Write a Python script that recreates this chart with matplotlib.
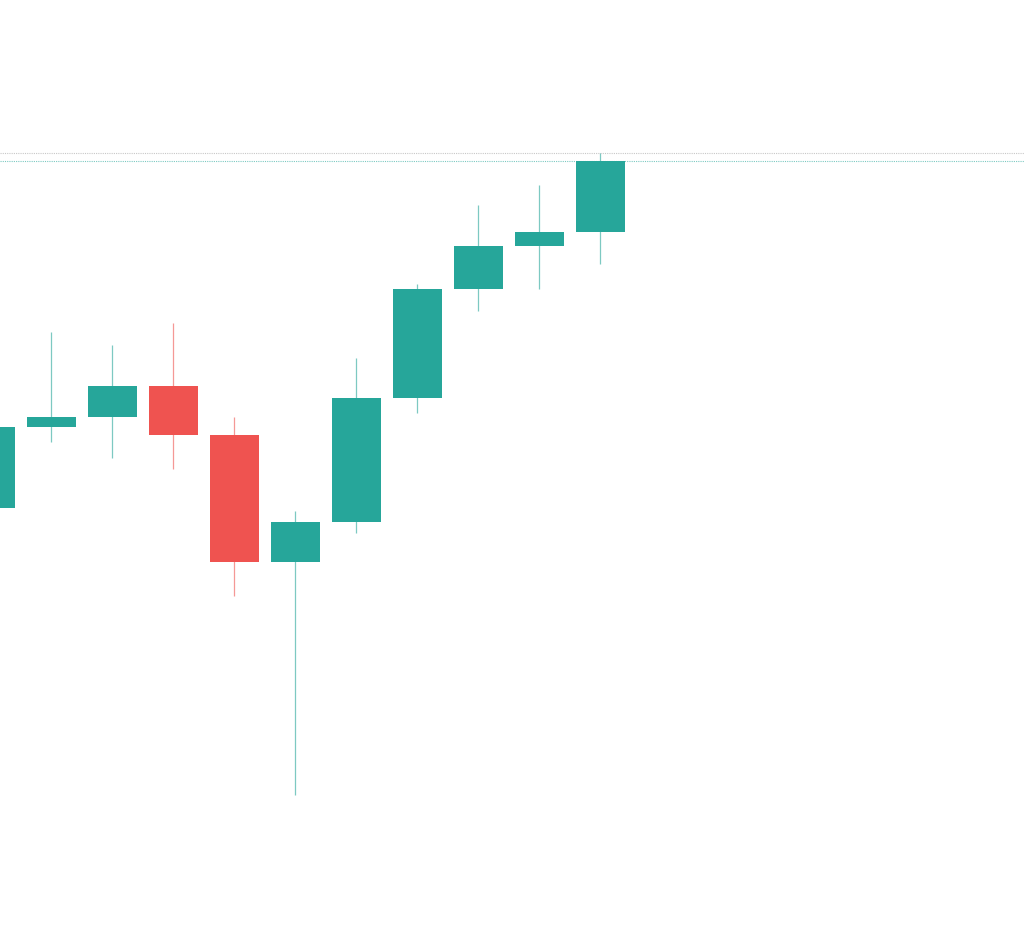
import matplotlib
matplotlib.use("Agg")
import matplotlib.pyplot as plt
import numpy as np

# OHLC values (arbitrary price units)
idx = list(range(11))
opens  = [42.3, 50.4, 51.4, 54.5, 49.6, 36.9, 40.9, 53.3, 64.2, 68.5, 69.9]
closes = [50.4, 51.4, 54.5, 49.6, 36.9, 40.9, 53.3, 64.2, 68.5, 69.9, 77.0]
highs  = [51.0, 59.9, 58.6, 60.8, 51.4, 42.0, 57.3, 64.7, 72.6, 74.6, 77.8]
lows   = [41.0, 48.9, 47.3, 46.2, 33.5, 13.6, 39.8, 51.8, 62.0, 64.2, 66.7]

UP = "#26a69a"
DOWN = "#ef5350"

fig = plt.figure(figsize=(10.24, 9.31), dpi=100)
ax = fig.add_axes([0, 0, 1, 1])
ax.set_xlim(9.6 / 61, (1024 + 9.6) / 61)
ax.set_ylim(0, 93.1)
ax.axis("off")

o = np.array(opens); c = np.array(closes)
h = np.array(highs); l = np.array(lows)
x = np.array(idx)
colors = [UP if cc >= oo else DOWN for oo, cc in zip(o, c)]

ax.vlines(x, l, h, colors=colors, linewidth=0.9, alpha=0.6, zorder=1)
ax.bar(x, np.abs(c - o), bottom=np.minimum(o, c), width=49 / 61,
       color=colors, edgecolor="none", zorder=2)

ax.axhline(highs[-1], color="#c8c8c8", linestyle=(0, (1, 1)), linewidth=0.8, zorder=0)
ax.axhline(closes[-1], color=UP, alpha=0.6, linestyle=(0, (1, 1)), linewidth=0.8, zorder=0)

fig.savefig("out.png", dpi=100)
